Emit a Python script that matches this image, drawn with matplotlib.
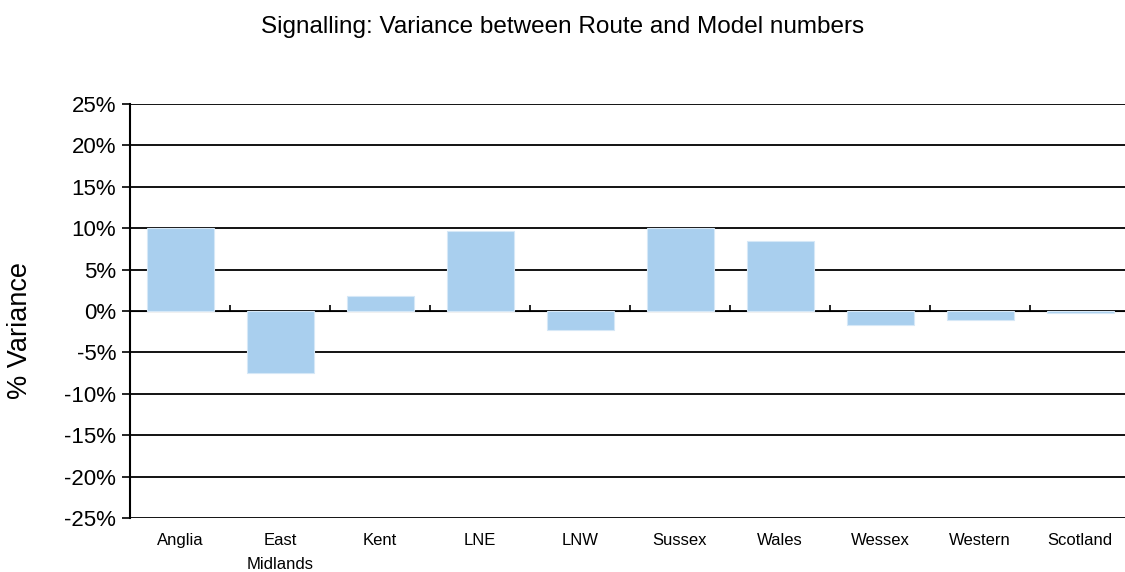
import matplotlib
matplotlib.use("Agg")
import matplotlib.pyplot as plt
from matplotlib.ticker import FuncFormatter

plt.rcParams['font.family'] = ['Liberation Sans', 'DejaVu Sans']

routes = ["Anglia", "East\nMidlands", "Kent", "LNE", "LNW",
          "Sussex", "Wales", "Wessex", "Western", "Scotland"]
variance = [10.0, -7.5, 1.85, 9.65, -2.3, 10.0, 8.5, -1.7, -1.1, -0.3]
yticks = list(range(-25, 26, 5))

fig = plt.figure(figsize=(11.25, 5.72), dpi=100)
ax = fig.add_axes([130 / 1125, 54 / 572, 1000 / 1125, 414 / 572])

xs = list(range(len(routes)))
ax.bar(xs, variance, width=0.67, color="#a9cfee", edgecolor="#d6e8f7",
       linewidth=0.8, zorder=3)

ax.set_xlim(-0.5, len(routes) - 0.5)
ax.set_ylim(-25, 25)
ax.set_yticks(yticks)
ax.yaxis.set_major_formatter(FuncFormatter(lambda v, p: f"{v:.0f}%"))
ax.yaxis.grid(True, color="black", linewidth=1.3, zorder=1)
ax.set_axisbelow(True)
ax.tick_params(axis="y", length=6, width=1.2, labelsize=16, pad=4)

ax.set_xticks(xs)
ax.set_xticklabels(routes, fontsize=12, linespacing=1.75, va="top")
ax.tick_params(axis="x", length=0, pad=11)

for s in ["top", "right", "bottom"]:
    ax.spines[s].set_visible(False)
ax.spines["left"].set_linewidth(1.5)

# small ticks between categories on the zero line
sec = ax.secondary_xaxis(0.5)
sec.set_xticks([x + 0.5 for x in xs[:-1]])
sec.set_xticklabels([])
sec.tick_params(axis="x", length=4, width=1.2, direction="out")
sec.spines["bottom"].set_visible(False)

ax.set_ylabel("% Variance", fontsize=19.5)
ax.yaxis.set_label_coords(-0.097, 0.452)
fig.text(0.5, 1 - 27 / 572, "Signalling: Variance between Route and Model numbers",
         ha="center", va="center", fontsize=17.5)

fig.savefig("out.png", dpi=100)
